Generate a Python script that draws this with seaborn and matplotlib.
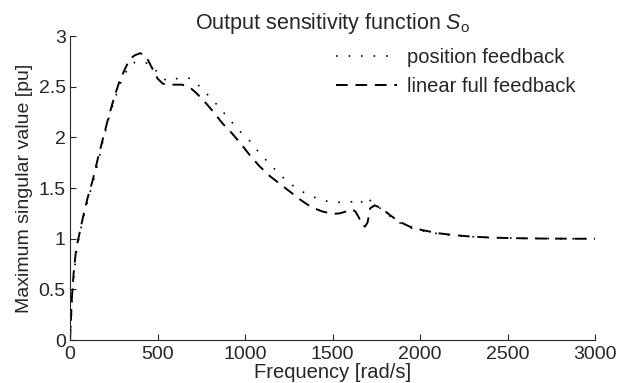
"""Output sensitivity function S_o: position vs linear full feedback"""

import matplotlib
matplotlib.use("Agg")
import matplotlib.pyplot as plt
import pandas as pd
import seaborn as sns

# position feedback (dotted)
pos_freq = [0, 5, 10, 20, 35, 50, 75, 100, 130, 160, 190, 220, 250, 280, 310, 340,
            370, 400, 430, 460, 490, 520, 550, 580, 610, 640, 670, 700, 730, 770,
            820, 870, 920, 970, 1020, 1080, 1140, 1200, 1260, 1320, 1380, 1440,
            1500, 1550, 1590, 1620, 1645, 1665, 1680, 1700, 1720, 1745, 1780, 1830,
            1880, 1940, 2000, 2100, 2200, 2300, 2400, 2500, 2600, 2700, 2800, 2900, 3000]
pos_sv = [0.0, 0.15, 0.35, 0.6, 0.85, 1.0, 1.2, 1.37, 1.55, 1.75, 1.98, 2.18, 2.35,
          2.5, 2.62, 2.7, 2.74, 2.75, 2.74, 2.71, 2.66, 2.6, 2.56, 2.56, 2.58, 2.59,
          2.59, 2.57, 2.52, 2.45, 2.36, 2.26, 2.16, 2.06, 1.98, 1.85, 1.74, 1.63,
          1.54, 1.47, 1.42, 1.38, 1.36, 1.36, 1.37, 1.36, 1.33, 1.36, 1.41, 1.40,
          1.37, 1.34, 1.29, 1.22, 1.16, 1.11, 1.08, 1.05, 1.03, 1.02, 1.012, 1.007,
          1.004, 1.002, 1.001, 1.0, 1.0]

# linear full feedback (dashed)
lin_freq = [0, 5, 10, 20, 35, 50, 75, 100, 130, 160, 190, 220, 250, 280, 310, 340,
            370, 400, 420, 440, 470, 500, 530, 560, 600, 640, 680, 720, 770, 820,
            870, 920, 970, 1020, 1080, 1140, 1200, 1260, 1320, 1380, 1440, 1500,
            1540, 1580, 1610, 1630, 1650, 1670, 1685, 1700, 1715, 1740, 1780, 1830,
            1880, 1940, 2000, 2100, 2200, 2300, 2400, 2500, 2600, 2700, 2800, 2900, 3000]
lin_sv = [0.0, 0.2, 0.4, 0.65, 0.9, 1.02, 1.22, 1.4, 1.58, 1.8, 2.0, 2.2, 2.38, 2.54,
          2.66, 2.77, 2.81, 2.83, 2.82, 2.78, 2.68, 2.58, 2.53, 2.52, 2.52, 2.52,
          2.50, 2.44, 2.35, 2.25, 2.14, 2.05, 1.95, 1.84, 1.72, 1.62, 1.54, 1.46,
          1.38, 1.31, 1.27, 1.245, 1.25, 1.27, 1.29, 1.27, 1.21, 1.13, 1.12, 1.16,
          1.30, 1.33, 1.30, 1.23, 1.17, 1.12, 1.09, 1.055, 1.035, 1.02, 1.012,
          1.007, 1.004, 1.002, 1.001, 1.0, 1.0]

x_ticks = [0, 500, 1000, 1500, 2000, 2500, 3000]
y_ticks = [0, 0.5, 1, 1.5, 2, 2.5, 3]
y_tick_labels = ["0", "0.5", "1", "1.5", "2", "2.5", "3"]

pos = pd.DataFrame({"freq": pos_freq, "sv": pos_sv})
lin = pd.DataFrame({"freq": lin_freq, "sv": lin_sv})

sns.set_style("ticks", {"xtick.direction": "in", "ytick.direction": "in"})
plt.rcParams["font.family"] = ["Liberation Sans", "DejaVu Sans"]
plt.rcParams["mathtext.fontset"] = "custom"
plt.rcParams["mathtext.rm"] = "Liberation Sans"
plt.rcParams["mathtext.it"] = "Liberation Sans:italic"

fig = plt.figure(figsize=(6.17, 3.83), dpi=100)
ax = fig.add_axes([0.1135, 0.112, 0.851, 0.794])

sns.lineplot(data=pos, x="freq", y="sv", ax=ax, color="k", lw=1.2,
             linestyle=(0, (1, 6.5)), label="position feedback", sort=False)
sns.lineplot(data=lin, x="freq", y="sv", ax=ax, color="k", lw=1.4,
             linestyle=(0, (6, 4)), label="linear full feedback", sort=False)

ax.set_xlim(0, 3000)
ax.set_ylim(0, 3)
ax.set_xticks(x_ticks)
ax.set_yticks(y_ticks)
ax.set_yticklabels(y_tick_labels)
ax.tick_params(labelsize=14, length=4, width=0.8)
ax.tick_params(axis="x", pad=4)
ax.tick_params(axis="y", pad=3)
ax.set_xlabel("Frequency [rad/s]", fontsize=14.5, labelpad=0)
ax.set_ylabel("Maximum singular value [pu]", fontsize=14, labelpad=4)
ax.set_title(r"Output sensitivity function $S_\mathrm{o}$", fontsize=15.5, pad=5)
sns.despine(ax=ax)
for s in ["left", "bottom"]:
    ax.spines[s].set_linewidth(0.8)

ax.legend(loc="upper right", frameon=False, fontsize=14.5, handlelength=3.0,
          handletextpad=0.5, labelspacing=0.5, borderaxespad=0.2,
          bbox_to_anchor=(0.985, 1.0))

fig.savefig("out.png", dpi=100)
